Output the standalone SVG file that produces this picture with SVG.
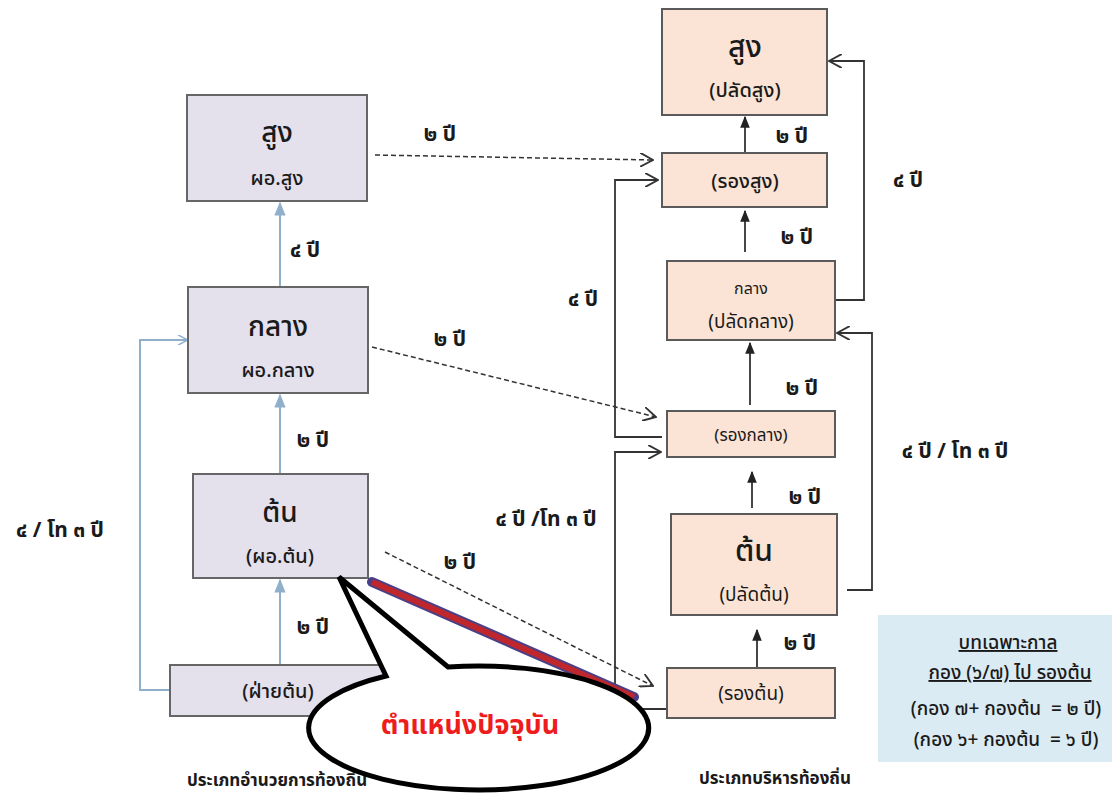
<svg xmlns="http://www.w3.org/2000/svg" width="1112" height="794" viewBox="0 0 1112 794">
<defs>
<style>
text{font-family:"Noto Sans Thai","Noto Sans","Liberation Sans",sans-serif;fill:#1a1a1a;text-anchor:middle}
.lbox{fill:#E4E0EC;stroke:#666;stroke-width:2}
.rbox{fill:#FBE4D5;stroke:#5a5a5a;stroke-width:2}
.blue{stroke:#8FAFCB;stroke-width:2;fill:none}
.dark{stroke:#333;stroke-width:1.8;fill:none}
.dash{stroke:#333;stroke-width:1.5;fill:none;stroke-dasharray:5 3}
.big{font-size:28px;font-weight:500}
.mid{font-size:20px;font-weight:500}
.lab{font-size:21px;font-weight:bold}
.note{font-size:19px;font-weight:500;white-space:pre}
</style>
<marker id="bt" viewBox="0 0 10 10" refX="9" refY="5" markerWidth="7" markerHeight="7" orient="auto"><path d="M0,1 L10,5 L0,9 z" fill="#8FAFCB"/></marker>
<marker id="bo" viewBox="0 0 10 10" refX="9" refY="5" markerWidth="10" markerHeight="10" orient="auto" markerUnits="userSpaceOnUse"><path d="M0,0 L10,5 L0,10" fill="none" stroke="#8FAFCB" stroke-width="1.5"/></marker>
<marker id="dt" viewBox="0 0 10 10" refX="9" refY="5" markerWidth="12" markerHeight="12" orient="auto" markerUnits="userSpaceOnUse"><path d="M0,1 L10,5 L0,9 z" fill="#222"/></marker>
<marker id="do" viewBox="0 0 12 12" refX="11" refY="6" markerWidth="14" markerHeight="14" orient="auto" markerUnits="userSpaceOnUse"><path d="M0,0 L11,6 L0,12" fill="none" stroke="#333" stroke-width="1.6"/></marker>
</defs>
<rect width="1112" height="794" fill="#fff"/>

<g id="connectors">
<line class="blue" x1="280" y1="287" x2="280" y2="203" marker-end="url(#bt)"/>
<line class="blue" x1="280" y1="474" x2="280" y2="395" marker-end="url(#bt)"/>
<line class="blue" x1="280" y1="665" x2="280" y2="580" marker-end="url(#bt)"/>
<polyline class="blue" points="170,690 140,690 140,340 187,340" marker-end="url(#bo)"/>
<line class="dash" x1="375" y1="155" x2="653" y2="160" marker-end="url(#do)"/>
<line class="dash" x1="372" y1="347" x2="656" y2="417" marker-end="url(#do)"/>
<line class="dash" x1="385" y1="552" x2="653" y2="686" marker-end="url(#do)"/>
<line class="dark" x1="745" y1="153" x2="745" y2="117" marker-end="url(#dt)"/>
<line class="dark" x1="745" y1="252" x2="745" y2="211" marker-end="url(#dt)"/>
<line class="dark" x1="750" y1="405" x2="750" y2="343" marker-end="url(#dt)"/>
<line class="dark" x1="752" y1="508" x2="752" y2="472" marker-end="url(#dt)"/>
<line class="dark" x1="757" y1="668" x2="757" y2="630" marker-end="url(#dt)"/>
<polyline class="dark" points="835,300 864,300 864,61 829,61" marker-end="url(#do)"/>
<polyline class="dark" points="847,590 872,590 872,333 837,333" marker-end="url(#do)"/>
<polyline class="dark" points="662,437 615,437 615,180 658,180" marker-end="url(#do)"/>
<polyline class="dark" points="667,709 615,709 615,452 661,452" marker-end="url(#do)"/>
</g>

<g id="labels">
<text class="lab" x="305" y="257">๔ ปี</text>
<text class="lab" x="313" y="447">๒ ปี</text>
<text class="lab" x="313" y="634">๒ ปี</text>
<text class="lab" x="60" y="537">๔ / โท ๓ ปี</text>
<text class="lab" x="440" y="141">๒ ปี</text>
<text class="lab" x="450" y="346">๒ ปี</text>
<text class="lab" x="460" y="569">๒ ปี</text>
<text class="lab" x="792" y="143">๒ ปี</text>
<text class="lab" x="797" y="244">๒ ปี</text>
<text class="lab" x="802" y="395">๒ ปี</text>
<text class="lab" x="805" y="504">๒ ปี</text>
<text class="lab" x="800" y="650">๒ ปี</text>
<text class="lab" x="908" y="187">๔ ปี</text>
<text class="lab" x="955" y="458">๔ ปี / โท ๓ ปี</text>
<text class="lab" x="583" y="306">๔ ปี</text>
<text class="lab" x="546" y="526">๔ ปี /โท ๓ ปี</text>
</g>

<g id="l-sung"><rect class="lbox" x="187" y="95" width="180" height="106"/><text class="big" x="277" y="142">สูง</text><text class="mid" x="277" y="185">ผอ.สูง</text></g>
<g id="l-klang"><rect class="lbox" x="188" y="287" width="180" height="106"/><text class="big" x="278" y="336">กลาง</text><text class="mid" x="278" y="377">ผอ.กลาง</text></g>
<g id="l-ton"><rect class="lbox" x="193" y="474" width="175" height="104"/><text class="big" x="280" y="522">ต้น</text><text class="mid" x="280" y="563">(ผอ.ต้น)</text></g>
<g id="l-fai"><rect class="lbox" x="170" y="665" width="220" height="51"/><text class="mid" x="278" y="698">(ฝ่ายต้น)</text></g>

<g id="r-sung"><rect class="rbox" x="662" y="9" width="165" height="106"/><text class="big" x="745" y="57" style="font-size:30px">สูง</text><text class="mid" x="745" y="97">(ปลัดสูง)</text></g>
<g id="r-rongsung"><rect class="rbox" x="662" y="153" width="165" height="54"/><text class="mid" x="745" y="188">(รองสูง)</text></g>
<g id="r-klang"><rect class="rbox" x="667" y="261" width="168" height="79"/><text x="751" y="294" font-size="16">กลาง</text><text x="751" y="328" font-size="19">(ปลัดกลาง)</text></g>
<g id="r-rongklang"><rect class="rbox" x="667" y="411" width="168" height="46"/><text x="751" y="441" font-size="17">(รองกลาง)</text></g>
<g id="r-ton"><rect class="rbox" x="671" y="514" width="166" height="101"/><text x="754" y="561" font-size="30" font-weight="500">ต้น</text><text x="754" y="601" font-size="19">(ปลัดต้น)</text></g>
<g id="r-rongton"><rect class="rbox" x="667" y="668" width="168" height="50"/><text x="751" y="700" font-size="19">(รองต้น)</text></g>

<g id="note">
<rect x="878" y="615" width="234" height="147" fill="#DAEBF3"/>
<text class="note" x="1008" y="649" text-decoration="underline">บทเฉพาะกาล</text>
<text class="note" x="1010" y="679" text-decoration="underline">กอง (๖/๗) ไป รองต้น</text>
<text class="note" x="1006" y="715" xml:space="preserve">(กอง ๗+ กองต้น  = ๒ ปี)</text>
<text class="note" x="1006" y="746" xml:space="preserve">(กอง ๖+ กองต้น  = ๖ ปี)</text>
</g>

<text x="187" y="786" font-size="17" font-weight="bold" style="text-anchor:start">ประเภทอำนวยการท้องถิ่น</text>
<text x="775" y="784" font-size="17" font-weight="bold">ประเภทบริหารท้องถิ่น</text>

<g id="current">
<line x1="372" y1="582" x2="634" y2="697" stroke="#4b3f86" stroke-width="10" stroke-linecap="round"/>
<line x1="372" y1="582" x2="634" y2="697" stroke="#C0272D" stroke-width="6"/>
<path d="M386,676 L339,577 L448,667 A170 62 0 1 1 386,676 Z" fill="#fff" stroke="#000" stroke-width="5" stroke-linejoin="miter"/>
<text x="470" y="734" font-size="27" font-weight="bold" style="fill:#ee1c1c">ตำแหน่งปัจจุบัน</text>
</g>
</svg>
